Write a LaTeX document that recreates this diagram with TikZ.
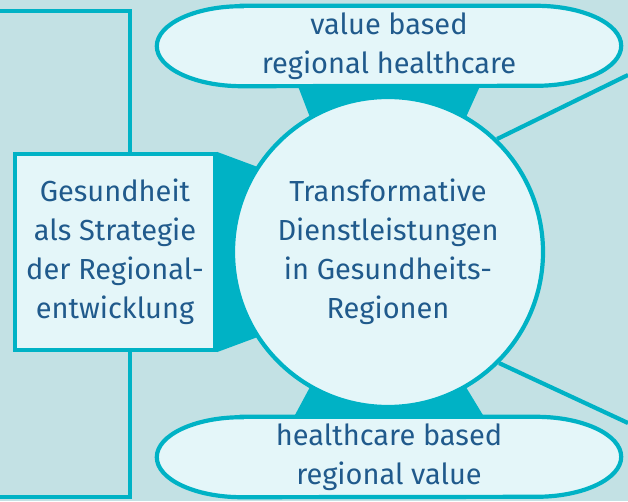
\documentclass[tikz,border=0pt]{standalone}
\usepackage{fontspec}
\setmainfont{Fira Sans}
\usetikzlibrary{backgrounds,calc}
\definecolor{bgteal}{RGB}{195,225,228}
\definecolor{rimteal}{RGB}{0,178,197}
\definecolor{paleteal}{RGB}{228,246,249}
\definecolor{textblue}{RGB}{32,90,140}

\begin{document}
\begin{tikzpicture}[x=1pt,y=1pt,
    rim/.style={draw=rimteal, line width=4.2pt},
    lbl/.style={text=textblue, align=center, font=\fontsize{29}{39}\selectfont},
    round/.style={lbl, circle, rim, fill=paleteal, minimum size=310pt, inner sep=0pt},
    frame/.style={lbl, rectangle, rim, fill=paleteal, minimum width=200pt, minimum height=196pt, inner sep=0pt},
    oval/.style={lbl, minimum width=464pt, minimum height=80pt, inner sep=0pt},
    wedge/.style={fill=rimteal}]
  \useasboundingbox (0,0) rectangle (628,501);
  %centre
  \node[round] (dl) at (388,249) {Transformative\\Dienstleistungen\\in Gesundheits-\\Regionen};
  %left
  \node[frame] (gs) at (115,249) {Gesundheit\\als Strategie\\der Regional-\\entwicklung};
  %top and bottom
  \node[oval] (vb) at (389,455) {value based\\regional healthcare};
  \node[oval] (hb) at (389,44) {healthcare based\\regional value};
  %loose ends
  \coordinate (ft) at (0,490);
  \coordinate (fb) at (0,4);
  \coordinate (rt) at (628,426);
  \coordinate (rb) at (628,78);
  \draw[rim] (ft) -| ([xshift=15pt]gs.north);
  \draw[rim] (fb) -| ([xshift=15pt]gs.south);
  \draw[rim] (dl.46) -- (rt);
  \draw[rim] (dl.-45) -- (rb);
  \begin{scope}[on background layer]
    \fill[bgteal] (0,0) rectangle (628,501);
    %wedges
    \fill[wedge] ([xshift=-91pt]vb.south) -- ([xshift=91pt]vb.south) -- (dl.60) -- (dl.120) -- cycle;
    \fill[wedge] ([xshift=-95pt]hb.north) -- ([xshift=95pt]hb.north) -- (dl.-60) -- (dl.-120) -- cycle;
    \fill[wedge] (gs.north east) -- (dl.147) -- (dl.213) -- (gs.south east) -- cycle;
    %ovals
    \foreach \o in {vb,hb}
      \draw[rim, fill=paleteal] ([xshift=85pt]\o.north west) -- ([xshift=-85pt]\o.north east)
        arc[start angle=90, end angle=-90, x radius=85pt, y radius=40pt]
        -- ([xshift=85pt]\o.south west)
        arc[start angle=270, end angle=90, x radius=85pt, y radius=40pt] -- cycle;
  \end{scope}
\end{tikzpicture}
\end{document}
